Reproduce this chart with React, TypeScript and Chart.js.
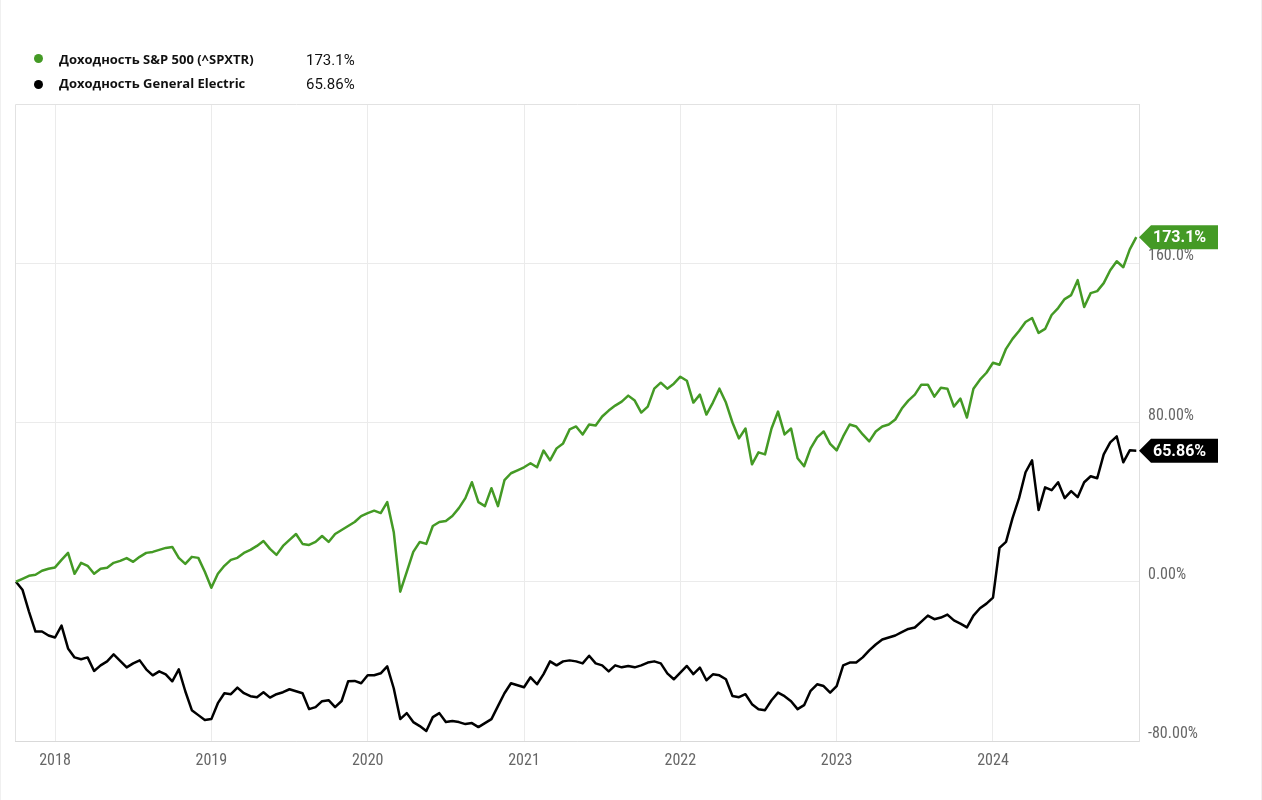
import React, { useEffect, useRef } from 'react';
import { Chart, registerables } from 'chart.js';

Chart.register(...registerables);

// Semi-monthly observations starting October 2017
const startYear = 2017.75;
const pointsPerYear = 24;

// S&P 500 total return (%)
const spxReturns = [
  0, 1.5, 3, 3.5, 5.5, 6.5,
  7.2, 11, 14.5, 4, 9.5, 8, 4, 6.5, 7, 9.5, 10.5, 11.9, 10, 12.5, 14.5, 15, 16, 17, 17.5, 12, 9, 12.5, 12, 5,
  -3, 4, 8, 11, 12, 14.5, 16, 18, 20.5, 16.5, 13.5, 18, 21, 24, 19, 18.5, 20, 23, 20, 24, 26, 28, 30, 33,
  34.5, 35.7, 34.5, 40, 25, -5, 5, 15, 20, 19, 28, 30, 30.5, 33, 37, 42, 50, 40, 38, 47, 38, 51, 54.5, 56,
  57.5, 59.5, 57.5, 65.9, 61, 67, 69.5, 76.5, 78, 74, 79, 78.5, 83, 86, 88.5, 90.5, 93.5, 91, 85, 88, 97, 100, 97, 99.5,
  103, 101, 90, 94, 84, 90, 97, 90, 80, 72, 77, 59, 65, 64, 77, 85.5, 74, 77, 62, 58, 67, 72.5, 75.5, 69.3,
  66, 73, 79, 78, 74, 70.5, 75.5, 78, 79, 81.5, 87, 91, 94, 99, 99, 93, 97.5, 97, 88, 92, 82.5, 97, 101.5, 105,
  110, 109, 117, 122, 126, 130.5, 132.5, 125, 127, 134, 137.5, 142, 144, 151.5, 138, 145, 146, 150, 156.5, 161, 158, 167, 173.1,
];

// General Electric total return (%)
const geReturns = [
  0, -4, -15, -25, -25, -27,
  -28, -22, -33.5, -38, -38.9, -38, -44.8, -42, -40, -36.5, -39.7, -43, -41, -39.5, -44, -47, -45, -46.5, -50, -44, -55, -64.5, -67, -69.5,
  -69, -61, -56, -56.5, -53.2, -56, -57.5, -58, -55.5, -58.2, -56.5, -55.5, -54, -55, -56, -64, -63, -60, -59.5, -63, -59.9, -50, -49.8, -51,
  -47, -47, -46, -42.5, -53.5, -69, -66, -70.5, -72.5, -75, -68, -66, -70.5, -70, -70.5, -71.5, -71, -73, -71, -69, -62.5, -56, -51, -52,
  -53, -48, -51.5, -46.4, -40, -42, -40, -39.5, -40, -41, -37.2, -41, -42, -45, -42, -43, -42.3, -43, -42, -40.6, -40, -41, -46, -49,
  -45.6, -42.3, -46.4, -43.1, -49.5, -46.5, -47, -49, -57.4, -58, -56.5, -61.5, -64, -64.5, -59.5, -55.7, -57.5, -60, -64, -62, -54.8, -51.5, -52.4, -55.7,
  -52.4, -42, -40.6, -40.6, -38, -34.5, -31.5, -29, -28, -27, -25.3, -23.7, -23, -20, -17, -18.8, -18, -16.5, -19.4, -21, -22.9, -17, -13.3, -11,
  -8, 17, 20, 32, 42, 55, 61, 36, 47.4, 46, 50, 42, 45.5, 42.5, 50, 53, 52, 64, 70, 73, 60, 66, 65.86,
];

const yearTicks = [2018, 2019, 2020, 2021, 2022, 2023, 2024];
const pctTickValues = [-80, 0, 80, 160];
const pctTickLabels = ['-80.00%', '0.00%', '80.00%', '160.0%'];
const seriesNames = ['Доходность S&P 500 (^SPXTR)', 'Доходность General Electric'];
const lastValueLabels = ['173.1%', '65.86%'];
const seriesColors = ['#449a25', '#000000'];

const W = 1262;
const H = 800;
const tickFont = "'Roboto Condensed', 'Liberation Sans Narrow', 'DejaVu Sans Condensed', Roboto, sans-serif";

function toPoints(values: number[]) {
  return values.map((v, i) => ({ x: startYear + i / pointsPerYear, y: v }));
}

const framePlugin = {
  id: 'frame',
  beforeDatasetsDraw(chart: any) {
    const { ctx, chartArea: a } = chart;
    ctx.save();
    ctx.strokeStyle = '#e2e2e2';
    ctx.lineWidth = 1;
    ctx.beginPath();
    ctx.moveTo(a.left + 0.5, a.bottom);
    ctx.lineTo(a.left + 0.5, a.top + 0.5);
    ctx.lineTo(a.right, a.top + 0.5);
    ctx.stroke();
    ctx.strokeStyle = '#f0f0f0';
    ctx.beginPath();
    ctx.moveTo(0.5, 0);
    ctx.lineTo(0.5, H);
    ctx.moveTo(W - 0.5, 0);
    ctx.lineTo(W - 0.5, H);
    ctx.stroke();
    ctx.restore();
  },
};

const tagPlugin = {
  id: 'lastTags',
  afterDraw(chart: any) {
    const { ctx, chartArea: a } = chart;
    chart.data.datasets.forEach((_ds: any, i: number) => {
      const meta = chart.getDatasetMeta(i);
      const pt = meta.data[meta.data.length - 1];
      if (!pt) return;
      const y = pt.y;
      const x0 = a.right;
      ctx.save();
      ctx.fillStyle = seriesColors[i];
      ctx.beginPath();
      ctx.moveTo(x0, y);
      ctx.lineTo(x0 + 12, y - 12);
      ctx.lineTo(x0 + 79, y - 12);
      ctx.lineTo(x0 + 79, y + 12);
      ctx.lineTo(x0 + 12, y + 12);
      ctx.closePath();
      ctx.fill();
      ctx.fillStyle = '#ffffff';
      ctx.font = 'bold 16px Roboto, sans-serif';
      ctx.textBaseline = 'middle';
      ctx.textAlign = 'left';
      ctx.fillText(lastValueLabels[i], x0 + 14, y + 1);
      ctx.restore();
    });
  },
};

export default function App() {
  const canvasRef = useRef<HTMLCanvasElement | null>(null);

  useEffect(() => {
    if (!canvasRef.current) return;
    const chart = new Chart(canvasRef.current, {
      type: 'line',
      data: {
        datasets: [
          {
            label: seriesNames[0],
            data: toPoints(spxReturns),
            borderColor: seriesColors[0],
            borderWidth: 2.5,
            pointRadius: 0,
            borderJoinStyle: 'round',
          },
          {
            label: seriesNames[1],
            data: toPoints(geReturns),
            borderColor: seriesColors[1],
            borderWidth: 2.5,
            pointRadius: 0,
            borderJoinStyle: 'round',
          },
        ],
      },
      options: {
        animation: false,
        responsive: false,
        maintainAspectRatio: false,
        layout: { padding: { top: 104, left: 15, right: 0, bottom: 0 } },
        plugins: { legend: { display: false }, tooltip: { enabled: false } },
        elements: { point: { radius: 0 }, line: { tension: 0 } },
        scales: {
          x: {
            type: 'linear',
            min: 2017.744,
            max: 2024.934,
            afterBuildTicks: (s: any) => {
              s.ticks = yearTicks.map((v) => ({ value: v }));
            },
            afterFit: (s: any) => {
              s.height = 59;
            },
            grid: { color: '#ebebeb', drawTicks: false },
            border: { color: '#d9d9d9' },
            ticks: {
              color: '#666666',
              font: { family: tickFont, size: 16 },
              padding: 10,
              maxRotation: 0,
              autoSkip: false,
              callback: (v: any) => String(v),
            },
          },
          y: {
            position: 'right',
            min: -80,
            max: 240,
            afterBuildTicks: (s: any) => {
              s.ticks = pctTickValues.map((v) => ({ value: v }));
            },
            afterFit: (s: any) => {
              s.width = 123;
            },
            grid: { color: '#ebebeb', drawTicks: false },
            border: { color: '#e0e0e0' },
            ticks: {
              color: '#666666',
              font: { family: tickFont, size: 16 },
              padding: 9,
              labelOffset: -7,
              callback: (v: any) => {
                const k = pctTickValues.indexOf(Number(v));
                return k >= 0 ? pctTickLabels[k] : '';
              },
            },
          },
        },
      } as any,
      plugins: [framePlugin, tagPlugin],
    });
    return () => chart.destroy();
  }, []);

  const legendText: React.CSSProperties = {
    position: 'absolute',
    fontFamily: "'Open Sans', 'Noto Sans', sans-serif",
    fontWeight: 700,
    fontSize: 13,
    lineHeight: '18px',
    color: '#111',
    whiteSpace: 'nowrap',
  };
  const legendValue: React.CSSProperties = {
    position: 'absolute',
    fontFamily: "Roboto, 'Noto Sans', sans-serif",
    fontSize: 15,
    lineHeight: '18px',
    color: '#111',
    whiteSpace: 'nowrap',
  };
  const dot = (color: string, top: number): React.CSSProperties => ({
    position: 'absolute',
    left: 34,
    top,
    width: 9,
    height: 9,
    borderRadius: '50%',
    background: color,
  });

  return (
    <div style={{ position: 'absolute', left: 0, top: 0, width: W, height: H, background: '#fff', overflow: 'hidden' }}>
      <canvas ref={canvasRef} width={W} height={H} style={{ position: 'absolute', left: 0, top: 0, width: W, height: H }} />
      <div style={dot(seriesColors[0], 54)} />
      <div style={{ ...legendText, left: 59, top: 50 }}>{seriesNames[0]}</div>
      <div style={{ ...legendValue, left: 306, top: 51 }}>{lastValueLabels[0]}</div>
      <div style={dot(seriesColors[1], 80)} />
      <div style={{ ...legendText, left: 59, top: 74 }}>{seriesNames[1]}</div>
      <div style={{ ...legendValue, left: 306, top: 75 }}>{lastValueLabels[1]}</div>
    </div>
  );
}
